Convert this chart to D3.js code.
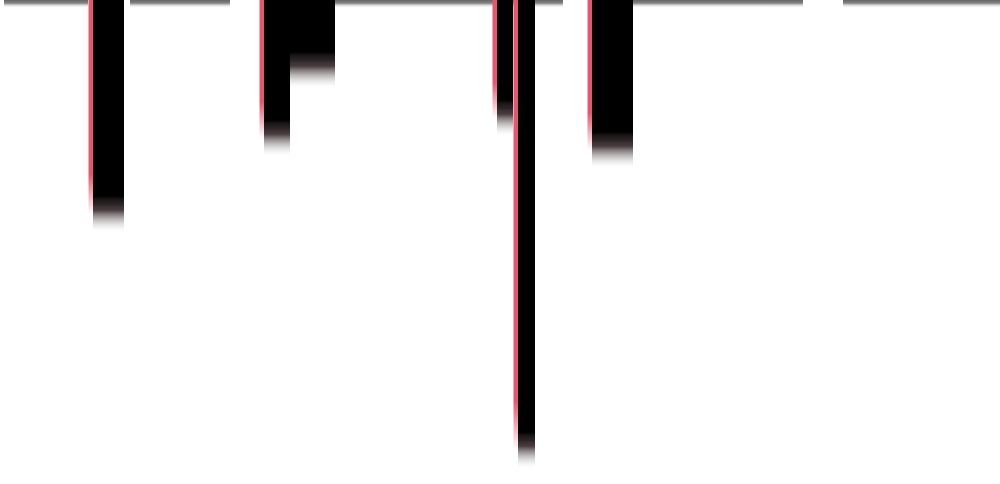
<!DOCTYPE html>
<html>
<head>
<meta charset="utf-8">
<script src="https://cdn.jsdelivr.net/npm/d3@7"></script>
<style>
  html, body { margin: 0; padding: 0; background: #ffffff; overflow: hidden; }
  svg { display: block; }
</style>
</head>
<body>
<svg id="chart" width="1000" height="484"></svg>
<script>
// ---- data (in chart units) ----
const barStart  = [93, 264, 290, 497, 518, 592];
const barEnd    = [124, 290, 335, 513, 535, 633];
const barDepth  = [214, 138, 70, 118, 450, 150];
const barAccent = [true, true, false, true, true, true];

const baseStart = [4, 130, 335, 633, 843];
const baseEnd   = [88, 230, 563, 803, 1000];

// ---- layout ----
const W = 1000, H = 484;
const svg = d3.select("#chart");
const x = d3.scaleLinear().domain([0, 1000]).range([0, W]);
const y = d3.scaleLinear().domain([0, 484]).range([0, H]);
const fade = 38;       // px soft bottom
const accentW = 4.5;

const defs = svg.append("defs");
defs.append("filter").attr("id", "soft")
  .append("feGaussianBlur").attr("stdDeviation", 0.7);

// baseline shadow gradient
const bg = defs.append("linearGradient").attr("id", "baseGrad")
  .attr("x1", 0).attr("y1", 0).attr("x2", 0).attr("y2", 1);
bg.append("stop").attr("offset", 0).attr("stop-color", "#666666");
bg.append("stop").attr("offset", 0.4).attr("stop-color", "#858585");
bg.append("stop").attr("offset", 1).attr("stop-color", "#ffffff").attr("stop-opacity", 0);

const g = svg.append("g").attr("filter", "url(#soft)");

// baseline segments
const baseData = baseStart.map((s, i) => ({ s, e: baseEnd[i] }));
g.selectAll("rect.base").data(baseData).join("rect")
  .attr("class", "base")
  .attr("x", d => x(d.s))
  .attr("y", y(0))
  .attr("width", d => x(d.e) - x(d.s))
  .attr("height", 8)
  .attr("fill", "url(#baseGrad)");

// bars
const bars = barStart.map((s, i) => ({ s, e: barEnd[i], d: barDepth[i], a: barAccent[i], i }));

bars.forEach(b => {
  const total = y(b.d) + fade / 2;
  const solid = (y(b.d) - fade / 2) / total;
  const gr = defs.append("linearGradient").attr("id", "barGrad" + b.i)
    .attr("x1", 0).attr("y1", 0).attr("x2", 0).attr("y2", 1);
  gr.append("stop").attr("offset", solid).attr("stop-color", "#000000");
  gr.append("stop").attr("offset", solid + (1 - solid) * 0.4).attr("stop-color", "#2a1c1e").attr("stop-opacity", 0.85);
  gr.append("stop").attr("offset", solid + (1 - solid) * 0.75).attr("stop-color", "#9a9496").attr("stop-opacity", 0.35);
  gr.append("stop").attr("offset", 1).attr("stop-color", "#ffffff").attr("stop-opacity", 0);

  const ar = defs.append("linearGradient").attr("id", "accGrad" + b.i)
    .attr("x1", 0).attr("y1", 0).attr("x2", 0).attr("y2", 1);
  ar.append("stop").attr("offset", solid * 0.97).attr("stop-color", "#e8546e");
  ar.append("stop").attr("offset", 1).attr("stop-color", "#e8546e").attr("stop-opacity", 0);
});

g.selectAll("rect.bar").data(bars).join("rect")
  .attr("class", "bar")
  .attr("x", d => x(d.s))
  .attr("y", y(0))
  .attr("width", d => x(d.e) - x(d.s))
  .attr("height", d => y(d.d) + fade / 2)
  .attr("fill", d => `url(#barGrad${d.i})`);

g.selectAll("rect.accent").data(bars.filter(d => d.a)).join("rect")
  .attr("class", "accent")
  .attr("x", d => x(d.s) - accentW)
  .attr("y", y(0))
  .attr("width", accentW)
  .attr("height", d => y(d.d))
  .attr("fill", d => `url(#accGrad${d.i})`);
</script>
</body>
</html>
